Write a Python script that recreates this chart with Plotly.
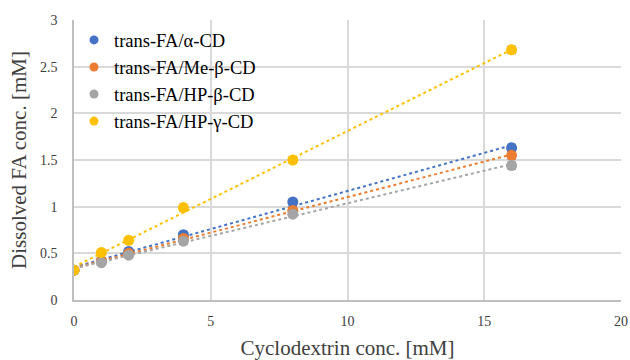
import numpy as np
import plotly.graph_objects as go

x = [0, 1, 2, 4, 8, 16]
names = ["trans-FA/α-CD", "trans-FA/Me-β-CD", "trans-FA/HP-β-CD", "trans-FA/HP-γ-CD"]
alpha = [0.32, 0.42, 0.52, 0.70, 1.05, 1.63]
me_beta = [0.32, 0.42, 0.50, 0.66, 0.96, 1.55]
hp_beta = [0.32, 0.40, 0.48, 0.63, 0.92, 1.44]
hp_gamma = [0.32, 0.51, 0.64, 0.99, 1.50, 2.68]
errors = [0.03, 0.03, 0.03, 0.035, 0.035, 0.04]
colors = ["#4472C4", "#ED7D31", "#A5A5A5", "#FFC000"]
series = [alpha, me_beta, hp_beta, hp_gamma]

fig = go.Figure()
for name, ys, c in zip(names, series, colors):
    k, b = np.polyfit(x, ys, 1)
    xt = np.array([min(x), max(x)])
    fig.add_trace(go.Scatter(x=xt, y=k * xt + b, mode="lines",
                             line=dict(color=c, width=2, dash="dot"),
                             showlegend=False, hoverinfo="skip"))
for name, ys, c in zip(names, series, colors):
    fig.add_trace(go.Scatter(x=x, y=ys, mode="markers", name=name, showlegend=False,
                             marker=dict(color=c, size=11),
                             error_y=dict(type="data", array=errors, color="#404040",
                                          thickness=1, width=4)))
for name, c in zip(names, colors):
    fig.add_trace(go.Scatter(x=[None], y=[None], mode="markers", name=name,
                             marker=dict(color=c, size=9)))

font = "Liberation Serif, Times New Roman, serif"
fig.update_layout(
    width=630, height=360,
    margin=dict(l=74, r=9, t=20, b=60),
    paper_bgcolor="white", plot_bgcolor="white",
    font=dict(family=font, color="#404040"),
    legend=dict(x=0.0, y=0.995, xanchor="left", yanchor="top",
                font=dict(family=font, size=18.5, color="black"),
                bgcolor="rgba(255,255,255,0)", itemwidth=30, tracegroupgap=0),
    showlegend=True,
)
fig.update_xaxes(range=[0, 20], dtick=5, showgrid=True, gridcolor="#d9d9d9", gridwidth=1.5,
                 showline=True, linecolor="#bfbfbf", linewidth=1.5, zeroline=False,
                 ticks="", tickfont=dict(size=14, color="#404040"), ticklabelstandoff=7,
                 automargin=False,
                 title=dict(text="Cyclodextrin conc. [mM]", font=dict(size=21, color="#404040"), standoff=17))
fig.update_yaxes(range=[0, 3], dtick=0.5, showgrid=True, gridcolor="#d9d9d9", gridwidth=1.5,
                 showline=True, linecolor="#bfbfbf", linewidth=1.5, zeroline=False,
                 ticks="", tickfont=dict(size=14, color="#404040"), ticklabelstandoff=12,
                 automargin=False,
                 title=dict(text="Dissolved FA conc. [mM]", font=dict(size=21, color="#404040"), standoff=8))
fig.write_html("out.html")
